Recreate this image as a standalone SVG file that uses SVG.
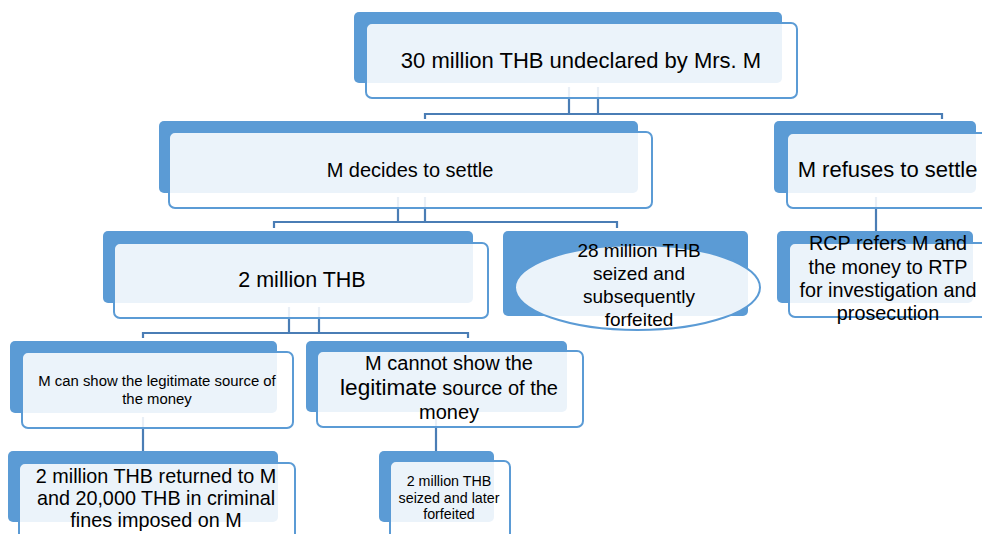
<svg xmlns="http://www.w3.org/2000/svg" width="982" height="534" viewBox="0 0 982 534">
<style>
.back{fill:#5B9BD5;}
.front{fill:#FFFFFF;fill-opacity:0.88;stroke:#5B9BD5;stroke-width:2;}
.conn{fill:none;stroke:#4A7DB5;stroke-width:2.2;}
text{font-family:"Liberation Sans",Arial,sans-serif;fill:#000000;text-anchor:middle;}
</style>
<rect width="982" height="534" fill="#FFFFFF"/>
<g id="connectors">
<path class="conn" d="M569,87 V114 M598,87 V114 M425,119 V114 H942 V119"/>
<path class="conn" d="M398,197 V222 M425,197 V222 M274,228 V222 H617 V228"/>
<path class="conn" d="M876,197 V231"/>
<path class="conn" d="M289,307 V333 M319,307 V333 M143,338 V333 H468 V338"/>
<path class="conn" d="M143,417 V451"/>
<path class="conn" d="M436,417 V451"/>
</g>
<g id="n-root">
<rect class="back" x="354" y="12" width="428" height="71" rx="5"/>
<rect class="front" x="366" y="23" width="431" height="75" rx="6"/>
<text x="581" y="68" font-size="22">30 million THB undeclared by Mrs. M</text>
</g>
<g id="n-settle">
<rect class="back" x="159" y="121" width="479" height="72" rx="5"/>
<rect class="front" x="169" y="132" width="483" height="76" rx="6"/>
<text x="410" y="177" font-size="20">M decides to settle</text>
</g>
<g id="n-refuse">
<rect class="back" x="774" y="121" width="202" height="72" rx="5"/>
<rect class="front" x="787" y="133" width="220" height="75" rx="6"/>
<text x="887.5" y="177" font-size="22">M refuses to settle</text>
</g>
<g id="n-rcp">
<rect class="back" x="777" y="231" width="196" height="72" rx="5"/>
<rect class="front" x="789" y="243" width="220" height="74" rx="6"/>
<text x="888" y="250" font-size="19.8">RCP refers M and</text>
<text x="888" y="273.5" font-size="19.8">the money to RTP</text>
<text x="888" y="297" font-size="19.8">for investigation and</text>
<text x="888" y="320" font-size="19.8">prosecution</text>
</g>
<g id="n-2m">
<rect class="back" x="103" y="231" width="370" height="72" rx="5"/>
<rect class="front" x="114" y="243" width="374" height="75" rx="6"/>
<text x="302" y="287" font-size="21.5">2 million THB</text>
</g>
<g id="n-28m">
<rect class="back" x="503" y="231" width="245" height="85" rx="5"/>
<ellipse class="front" cx="637.5" cy="287.5" rx="122.5" ry="42.5"/>
<text x="639" y="257" font-size="19">28 million THB</text>
<text x="639" y="280" font-size="19">seized and</text>
<text x="639" y="303" font-size="19">subsequently</text>
<text x="639" y="326" font-size="19">forfeited</text>
</g>
<g id="n-can">
<rect class="back" x="10" y="341" width="267" height="72" rx="5"/>
<rect class="front" x="22" y="352" width="271" height="76" rx="6"/>
<text x="157" y="386" font-size="14.9">M can show the legitimate source of</text>
<text x="157" y="403.5" font-size="14.9">the money</text>
</g>
<g id="n-cannot">
<rect class="back" x="306" y="341" width="261" height="71" rx="5"/>
<rect class="front" x="317" y="351" width="266" height="76" rx="6"/>
<text x="449" y="370" font-size="20">M cannot show the</text>
<text x="449" y="395" font-size="20"><tspan font-size="22.6">legitimate</tspan> source of the</text>
<text x="449" y="419" font-size="20">money</text>
</g>
<g id="n-returned">
<rect class="back" x="8" y="451" width="270" height="71" rx="5"/>
<rect class="front" x="19" y="463" width="276" height="90" rx="6"/>
<text x="156" y="483" font-size="19.8">2 million THB returned to M</text>
<text x="156" y="505" font-size="19.8">and 20,000 THB in criminal</text>
<text x="156" y="527" font-size="19.8">fines imposed on M</text>
</g>
<g id="n-seized">
<rect class="back" x="379" y="451" width="115" height="71" rx="5"/>
<rect class="front" x="390" y="461" width="120" height="90" rx="6"/>
<text x="449" y="486" font-size="14.3">2 million THB</text>
<text x="449" y="502.7" font-size="14.3">seized and later</text>
<text x="449" y="519.4" font-size="14.3">forfeited</text>
</g>
</svg>
